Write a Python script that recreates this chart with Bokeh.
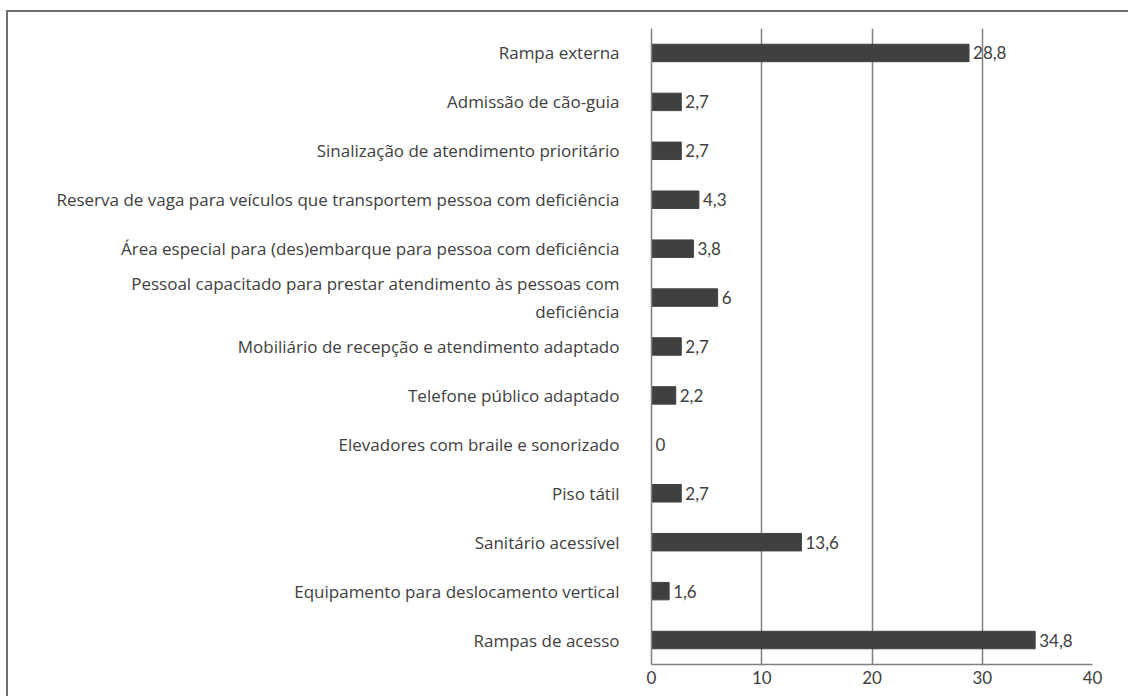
from bokeh.plotting import figure
from bokeh.models import Range1d, FactorRange, FixedTicker, ColumnDataSource
from bokeh.core.properties import value
from bokeh.embed import file_html
from bokeh.resources import INLINE

categories = [
    "Rampa externa",
    "Admissão de cão-guia",
    "Sinalização de atendimento prioritário",
    "Reserva de vaga para veículos que transportem pessoa com deficiência",
    "Área especial para (des)embarque para pessoa com deficiência",
    "Pessoal capacitado para prestar atendimento às pessoas com\ndeficiência",
    "Mobiliário de recepção e atendimento adaptado",
    "Telefone público adaptado",
    "Elevadores com braile e sonorizado",
    "Piso tátil",
    "Sanitário acessível",
    "Equipamento para deslocamento vertical",
    "Rampas de acesso",
]
values = [28.8, 2.7, 2.7, 4.3, 3.8, 6, 2.7, 2.2, 0, 2.7, 13.6, 1.6, 34.8]
x_ticks = [0, 10, 20, 30, 40]


def fmt(v):
    s = ("%g" % v)
    return s.replace(".", ",")


labels = [fmt(v) for v in values]

src = ColumnDataSource(dict(cat=categories, val=values, lab=labels))

TEXT = "#404040"
LINE = "#7f7f7f"

p = figure(
    width=1122, height=686,
    y_range=FactorRange(*reversed(categories)),
    x_range=Range1d(0, 40),
    output_backend="svg", toolbar_location=None,
    min_border_left=643, min_border_right=38,
    min_border_top=16, min_border_bottom=34,
    styles={"margin-top": "12px", "margin-left": "8px",
            "box-shadow": "-2px -2px 0 0 #6e6e6e"},
)
p.outline_line_color = None

p.hbar(y="cat", right="val", left=0, height=0.357, source=src,
       fill_color="#404040", line_color="#404040")
p.text(x="val", y="cat", text="lab", source=src, x_offset=4,
       text_baseline="middle", text_align="left",
       text_font=value("Lato"), text_font_size="17px", text_color=TEXT)

xa = p.xaxis[0]
xa.ticker = FixedTicker(ticks=x_ticks)
xa.major_tick_in = 0
xa.major_tick_out = 0
xa.minor_tick_line_color = None
xa.axis_line_color = LINE
xa.axis_line_width = 1.5
xa.major_label_text_font = "Lato"
xa.major_label_text_font_size = "17px"
xa.major_label_text_color = TEXT
xa.major_label_standoff = 6

ya = p.yaxis[0]
ya.major_tick_in = 0
ya.major_tick_out = 0
ya.axis_line_color = LINE
ya.axis_line_width = 1.5
ya.major_label_text_font = "Open Sans"
ya.major_label_text_font_size = "17px"
ya.major_label_text_color = TEXT
ya.major_label_standoff = 32

p.xgrid.ticker = FixedTicker(ticks=[10, 20, 30, 40])
p.xgrid.grid_line_color = LINE
p.xgrid.grid_line_width = 1.5
p.ygrid.grid_line_color = None

open("out.html", "w").write(file_html(p, INLINE))
